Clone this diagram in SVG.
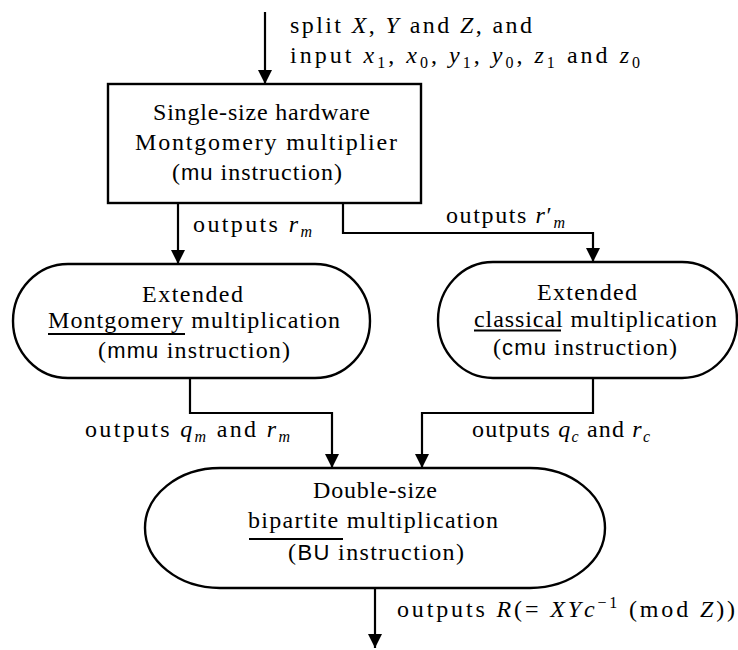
<svg xmlns="http://www.w3.org/2000/svg" width="738" height="650" viewBox="0 0 738 650">
<style>
text{font-size:24px;fill:#000}
.i{font-style:italic}
.s{font-size:22px}
.sb{font-size:16px}
.shape{fill:#fff;stroke:#000;stroke-width:2.4}
.ul{stroke:#000;stroke-width:1.8}
#edges path{fill:none;stroke:#000;stroke-width:2.2}
</style>
<defs>
<marker id="ah" markerUnits="userSpaceOnUse" markerWidth="16" markerHeight="16" refX="14" refY="7" orient="auto">
<path d="M0,0 L14,7 L0,14 z" fill="#000"/>
</marker>
</defs>

<g id="edges">
<path d="M265,12 V84" marker-end="url(#ah)"/>
<path d="M178,203 V264" marker-end="url(#ah)"/>
<path d="M343,203 V233 H593 V262" marker-end="url(#ah)"/>
<path d="M190,378 V413 H332 V468" marker-end="url(#ah)"/>
<path d="M593,378 V413 H422 V468" marker-end="url(#ah)"/>
<path d="M375,588 V648" marker-end="url(#ah)"/>
</g>

<g id="labels" font-family="Liberation Serif">
<text x="290" y="33" textLength="242">split <tspan class="i">X</tspan>, <tspan class="i">Y</tspan> and <tspan class="i">Z</tspan>, and</text>
<text x="290" y="63" textLength="350">input <tspan class="i">x</tspan><tspan class="sb" dy="5">1</tspan><tspan dy="-5">, </tspan><tspan class="i">x</tspan><tspan class="sb" dy="5">0</tspan><tspan dy="-5">, </tspan><tspan class="i">y</tspan><tspan class="sb" dy="5">1</tspan><tspan dy="-5">, </tspan><tspan class="i">y</tspan><tspan class="sb" dy="5">0</tspan><tspan dy="-5">, </tspan><tspan class="i">z</tspan><tspan class="sb" dy="5">1</tspan><tspan dy="-5"> and </tspan><tspan class="i">z</tspan><tspan class="sb" dy="5">0</tspan></text>
<text x="193" y="232" textLength="119">outputs <tspan class="i">r</tspan><tspan class="sb i" dy="5">m</tspan></text>
<text x="446" y="223" textLength="119">outputs <tspan class="i">r</tspan>′<tspan class="sb i" dy="5">m</tspan></text>
<text x="85" y="437" textLength="205">outputs <tspan class="i">q</tspan><tspan class="sb i" dy="5">m</tspan><tspan dy="-5"> and </tspan><tspan class="i">r</tspan><tspan class="sb i" dy="5">m</tspan></text>
<text x="472" y="437" textLength="178">outputs <tspan class="i">q</tspan><tspan class="sb i" dy="5">c</tspan><tspan dy="-5"> and </tspan><tspan class="i">r</tspan><tspan class="sb i" dy="5">c</tspan></text>
<text x="397" y="617" textLength="338">outputs <tspan class="i">R</tspan>(= <tspan class="i">XYc</tspan><tspan class="sb" dy="-9">−1</tspan><tspan dy="9">  (mod </tspan><tspan class="i">Z</tspan>))</text>
</g>

<g id="n1" font-family="Liberation Serif">
<rect class="shape" x="108" y="84" width="313" height="119"/>
<text x="153" y="120" textLength="217">Single-size hardware</text>
<text x="135" y="150" textLength="262">Montgomery multiplier</text>
<text x="172" y="180" textLength="170">(<tspan class="s" font-family="Liberation Sans">mu</tspan> instruction)</text>
</g>

<g id="n2" font-family="Liberation Serif">
<rect class="shape" x="13" y="264" width="357" height="114" rx="55" ry="57"/>
<text x="142" y="302" textLength="101">Extended</text>
<text x="48" y="328" textLength="292">Montgomery multiplication</text>
<line class="ul" x1="48" y1="334" x2="185" y2="334"/>
<text x="98" y="358" textLength="192">(<tspan class="s" font-family="Liberation Sans">mmu</tspan> instruction)</text>
</g>

<g id="n3" font-family="Liberation Serif">
<rect class="shape" x="438" y="262" width="299" height="116" rx="55" ry="58"/>
<text x="537" y="300" textLength="100">Extended</text>
<text x="474" y="327" textLength="243">classical multiplication</text>
<line class="ul" x1="474" y1="330.5" x2="561" y2="330.5"/>
<text x="493" y="355" textLength="184">(<tspan class="s" font-family="Liberation Sans">cmu</tspan> instruction)</text>
</g>

<g id="n4" font-family="Liberation Serif">
<rect class="shape" x="145" y="468" width="460" height="120" rx="75" ry="60"/>
<text x="313" y="498" textLength="124">Double-size</text>
<text x="248" y="528" textLength="250">bipartite multiplication</text>
<line class="ul" x1="249" y1="539" x2="343" y2="539"/>
<text x="288" y="560" textLength="176">(<tspan class="s" font-family="Liberation Sans">BU</tspan> instruction)</text>
</g>
</svg>
